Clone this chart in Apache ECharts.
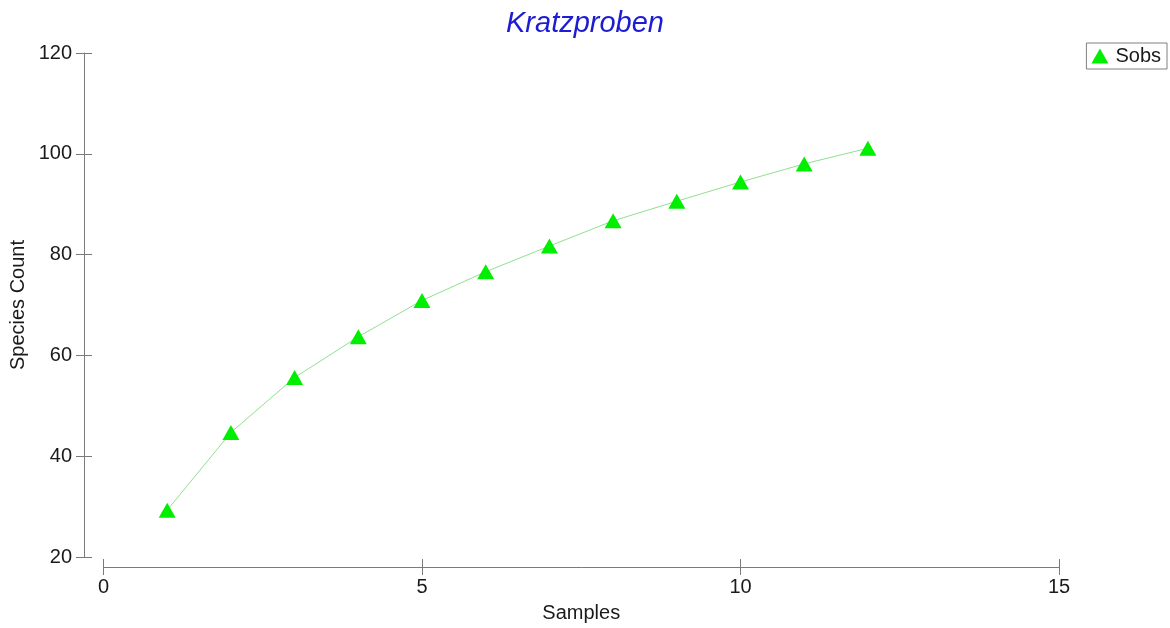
<!DOCTYPE html>
<html>
<head>
<meta charset="utf-8">
<script src="https://cdn.jsdelivr.net/npm/echarts@6/dist/echarts.min.js"></script>
<style>
html,body{margin:0;padding:0;background:#fff;}
#chart{width:1170px;height:628px;}
</style>
</head>
<body>
<div id="chart"></div>
<script>
const samples = [1, 2, 3, 4, 5, 6, 7, 8, 9, 10, 11, 12];
const sobs = [29.3, 44.7, 55.6, 63.7, 70.9, 76.6, 81.7, 86.7, 90.6, 94.4, 98.0, 101.1];
const seriesName = 'Sobs';
const titleText = 'Kratzproben';
const xName = 'Samples';
const yName = 'Species Count';

const FONT = 'Arial, "Liberation Sans", sans-serif';
const axisGray = '#7a7a7a';
const textColor = '#1a1a1a';

const chart = echarts.init(document.getElementById('chart'), null, {renderer: 'canvas'});

const baseX = {type: 'value', min: 0, max: 15, interval: 5, splitLine: {show: false}};
const baseY = {type: 'value', min: 20, max: 120, interval: 20, splitLine: {show: false}};

chart.setOption({
  backgroundColor: '#ffffff',
  animation: false,
  title: {
    text: titleText,
    left: 'center',
    top: 4,
    textStyle: {fontFamily: FONT, fontSize: 29, fontStyle: 'italic', fontWeight: 'normal', color: '#1c1cd2'}
  },
  legend: {
    data: [{name: seriesName, icon: 'triangle'}],
    right: 3,
    top: 43,
    orient: 'vertical',
    padding: [3, 6, 3, 5],
    itemWidth: 17,
    itemHeight: 15,
    itemGap: 0,
    borderColor: '#808080',
    borderWidth: 1,
    borderRadius: 0,
    backgroundColor: '#fff',
    textStyle: {fontFamily: FONT, fontSize: 20, color: textColor, padding: [0, 0, 0, 2]}
  },
  grid: {left: 103, right: 111, top: 53, bottom: 70, containLabel: false},
  xAxis: [
    Object.assign({}, baseX, {
      position: 'bottom',
      offset: 10,
      name: xName,
      nameLocation: 'middle',
      nameGap: 36,
      nameMoveOverlap: false,
      nameTextStyle: {fontFamily: FONT, fontSize: 20, color: textColor},
      axisLine: {show: true, onZero: false, lineStyle: {color: axisGray, width: 1}},
      axisTick: {show: true, inside: false, length: 8, lineStyle: {color: axisGray}},
      axisLabel: {fontFamily: FONT, fontSize: 20, color: textColor, margin: 10}
    }),
    Object.assign({}, baseX, {
      position: 'bottom',
      offset: 10,
      axisLine: {show: false, onZero: false},
      axisTick: {show: true, inside: true, length: 8, lineStyle: {color: axisGray}},
      axisLabel: {show: false}
    })
  ],
  yAxis: [
    Object.assign({}, baseY, {
      position: 'left',
      offset: 19.5,
      name: yName,
      nameLocation: 'middle',
      nameGap: 56,
      nameMoveOverlap: false,
      nameTextStyle: {fontFamily: FONT, fontSize: 20, color: textColor},
      axisLine: {show: true, onZero: false, lineStyle: {color: axisGray, width: 1}},
      axisTick: {show: true, inside: false, length: 8, lineStyle: {color: axisGray}},
      axisLabel: {fontFamily: FONT, fontSize: 20, color: textColor, margin: 12}
    }),
    Object.assign({}, baseY, {
      position: 'left',
      offset: 19.5,
      axisLine: {show: false, onZero: false},
      axisTick: {show: true, inside: true, length: 8, lineStyle: {color: axisGray}},
      axisLabel: {show: false}
    })
  ],
  series: [{
    name: seriesName,
    type: 'line',
    xAxisIndex: 0,
    yAxisIndex: 0,
    data: samples.map((s, i) => [s, sobs[i]]),
    symbol: 'triangle',
    symbolSize: [17, 15],
    itemStyle: {color: '#00ee00'},
    lineStyle: {color: '#90e090', width: 1},
    emphasis: {disabled: true}
  }]
});
</script>
</body>
</html>
